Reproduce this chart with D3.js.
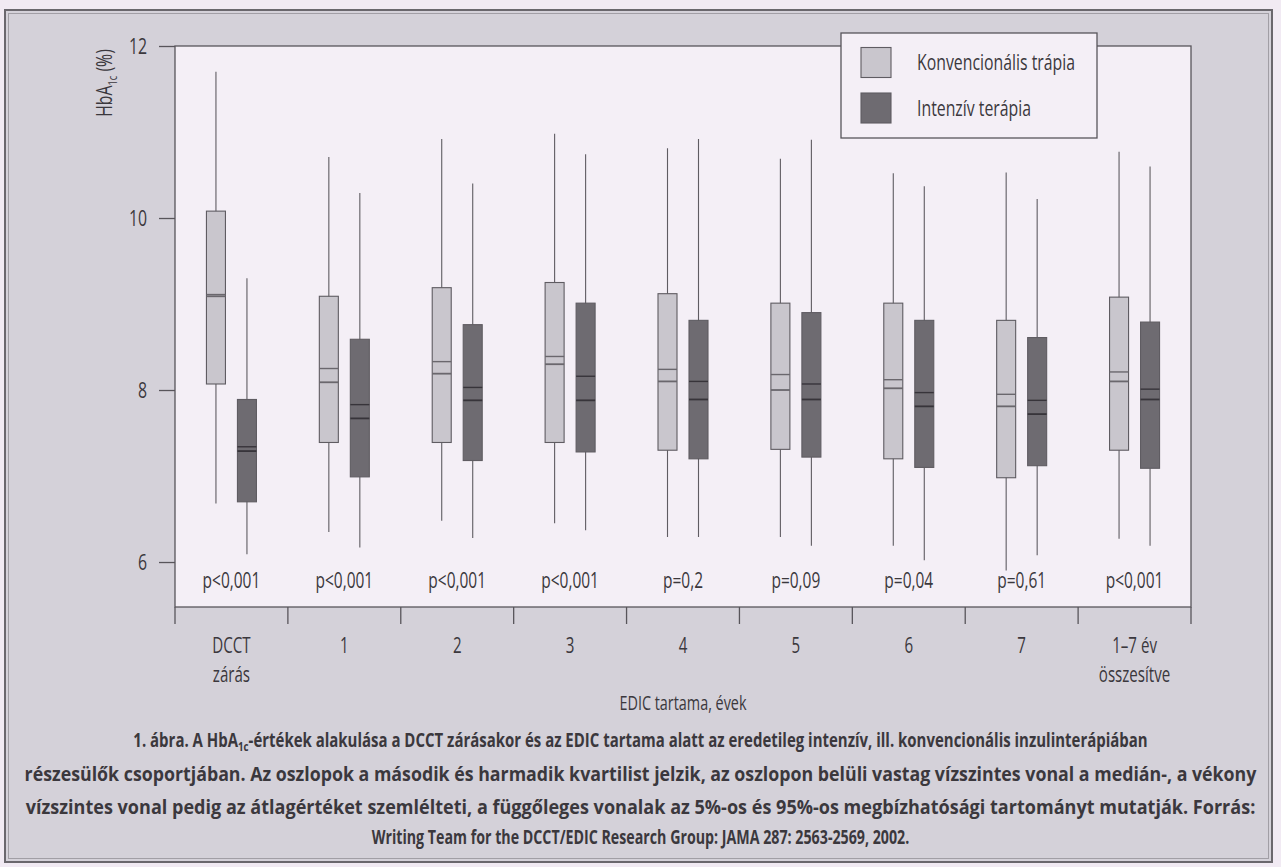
<!DOCTYPE html>
<html>
<head>
<meta charset="utf-8">
<script src="https://cdn.jsdelivr.net/npm/d3@7"></script>
<style>
    html, body { margin: 0; padding: 0; background: #f1eaf3; }
    svg { display: block; }
    text { font-family: "Open Sans", "Liberation Sans", sans-serif; fill: #3b383d; }
</style>
</head>
<body>
<svg id="grafico" width="1281" height="867"></svg>
<script>

// kategóriák (x tengely)
const kategoriak = ["DCCT zárás", "1", "2", "3", "4", "5", "6", "7", "1–7 év összesítve"];
const kategoriaFeliratok = [["DCCT", "zárás"], ["1"], ["2"], ["3"], ["4"], ["5"], ["6"], ["7"], ["1–7 év", "összesítve"]];
const pErtekek = ["p<0,001", "p<0,001", "p<0,001", "p<0,001", "p=0,2", "p=0,09", "p=0,04", "p=0,61", "p<0,001"];

const sorozatok = ["Konvencionális trápia", "Intenzív terápia"];

// konvencionális terápia
const konvP5     = [6.68, 6.35, 6.48, 6.45, 6.29, 6.29, 6.19, 5.90, 6.27];
const konvQ1     = [8.07, 7.39, 7.39, 7.39, 7.30, 7.31, 7.20, 6.98, 7.30];
const konvMedian = [9.09, 8.09, 8.19, 8.30, 8.10, 8.00, 8.02, 7.81, 8.10];
const konvAtlag  = [9.11, 8.25, 8.33, 8.39, 8.24, 8.18, 8.12, 7.95, 8.21];
const konvQ3     = [10.08, 9.09, 9.19, 9.25, 9.12, 9.01, 9.01, 8.81, 9.08];
const konvP95    = [11.70, 10.71, 10.92, 10.98, 10.81, 10.69, 10.52, 10.53, 10.77];

// intenzív terápia
const intP5      = [6.09, 6.17, 6.28, 6.37, 6.29, 6.19, 6.02, 6.08, 6.19];
const intQ1      = [6.70, 6.99, 7.18, 7.28, 7.20, 7.22, 7.10, 7.12, 7.09];
const intMedian  = [7.29, 7.67, 7.88, 7.88, 7.89, 7.89, 7.81, 7.72, 7.89];
const intAtlag   = [7.34, 7.83, 8.03, 8.16, 8.10, 8.07, 7.97, 7.88, 8.01];
const intQ3      = [7.89, 8.59, 8.76, 9.01, 8.81, 8.90, 8.81, 8.61, 8.79];
const intP95     = [9.30, 10.29, 10.40, 10.74, 10.92, 10.91, 10.37, 10.22, 10.60];

const yTickek = [6, 8, 10, 12];

const kepalairas = [
    "1. ábra. A HbA|1c|-értékek alakulása a DCCT zárásakor és az EDIC tartama alatt az eredetileg intenzív, ill. konvencionális inzulinterápiában",
    "részesülők csoportjában. Az oszlopok a második és harmadik kvartilist jelzik, az oszlopon belüli vastag vízszintes vonal a medián-, a vékony",
    "vízszintes vonal pedig az átlagértéket szemlélteti, a függőleges vonalak az 5%-os és 95%-os megbízhatósági tartományt mutatják. Forrás:",
    "Writing Team for the DCCT/EDIC Research Group: JAMA 287: 2563-2569, 2002."
];

const szinek = { konv: "#c9c6cd", int: "#6e6b71" };

// keskeny betű utánzása: vízszintes összenyomás az x pont körül
const SZUK = 0.72;

function szukit(sel, f) {
    sel.each(function() {
        const el = d3.select(this);
        const x = +el.attr("x") || 0;
        const t = el.attr("transform") || "";
        el.attr("transform", `${t} translate(${x},0) scale(${f},1) translate(${-x},0)`);
    });
}

const svg = d3.select("#grafico");

const width = 1281;
const height = 867;

const margin = { top: 46, right: 90, bottom: 260, left: 175 };

// keret
svg.append("rect")
    .attr("x", 5).attr("y", 10)
    .attr("width", 1267).attr("height", 852)
    .attr("fill", "#d4d1d9")
    .attr("stroke", "#6a676d")
    .attr("stroke-width", 2);

svg.append("rect")
    .attr("x", 8.5).attr("y", 13.5)
    .attr("width", 1260).attr("height", 845)
    .attr("fill", "none")
    .attr("stroke", "#a19ea5")
    .attr("stroke-width", 1);

const x0 = d3.scaleBand()
    .domain(kategoriak)
    .range([margin.left, width - margin.right]);

const bw = x0.bandwidth();

const x1 = d3.scaleBand()
    .domain(sorozatok)
    .range([bw / 2 - 25, bw / 2 + 25])
    .paddingInner(0.387);

const y = d3.scaleLinear()
    .domain([5.477, 12])
    .range([height - margin.bottom, margin.top]);

// rajzterület
svg.append("rect")
    .attr("x", margin.left)
    .attr("y", margin.top)
    .attr("width", x0.range()[1] - margin.left)
    .attr("height", y.range()[0] - margin.top)
    .attr("fill", "#f4eff6")
    .attr("stroke", "#58555b")
    .attr("stroke-width", 1.3);

// y tengely
const yTengely = svg.append("g")
    .attr("transform", `translate(${margin.left},0)`)
    .call(d3.axisLeft(y).tickValues(yTickek).tickSize(16).tickPadding(12).tickFormat(d3.format("d")));

yTengely.attr("font-family", null).attr("font-size", null);
yTengely.select(".domain").remove();
yTengely.selectAll(".tick line").attr("stroke", "#58555b").attr("stroke-width", 1.3);
yTengely.selectAll(".tick text")
    .style("font-size", "22px")
    .attr("fill", "#3b383d")
    .call(szukit, SZUK);

// y felirat
const yFelirat = svg.append("text")
    .attr("transform", "translate(112,83) rotate(-90)")
    .attr("text-anchor", "middle")
    .style("font-size", "22px");
yFelirat.append("tspan").text("HbA");
yFelirat.append("tspan").text("1c").style("font-size", "13px").attr("dy", 5);
yFelirat.append("tspan").text(" (%)").attr("dy", -5);
szukit(yFelirat, SZUK);

// x tengely: osztóvonalak a kategóriák határán
const hatarok = kategoriak.map(k => x0(k)).concat([x0.range()[1]]);

svg.append("g")
    .selectAll("line")
    .data(hatarok)
    .enter()
    .append("line")
    .attr("x1", d => d).attr("x2", d => d)
    .attr("y1", y.range()[0]).attr("y2", y.range()[0] + 17)
    .attr("stroke", "#58555b")
    .attr("stroke-width", 1.3);

kategoriaFeliratok.forEach((sorok, i) => {
    sorok.forEach((s, j) => {
        svg.append("text")
            .attr("x", x0(kategoriak[i]) + bw / 2)
            .attr("y", 653 + j * 29)
            .attr("text-anchor", "middle")
            .style("font-size", "21px")
            .text(s)
            .call(szukit, SZUK);
    });
});

svg.append("text")
    .attr("x", (margin.left + x0.range()[1]) / 2)
    .attr("y", 710)
    .attr("text-anchor", "middle")
    .style("font-size", "20px")
    .text("EDIC tartama, évek")
    .call(szukit, SZUK);

// p értékek
svg.append("g")
    .selectAll("text")
    .data(pErtekek)
    .enter()
    .append("text")
    .attr("x", (d, i) => x0(kategoriak[i]) + bw / 2)
    .attr("y", 588)
    .attr("text-anchor", "middle")
    .style("font-size", "21.5px")
    .text(d => d)
    .call(szukit, SZUK);

// dobozok adatai
const dobozok = [];
kategoriak.forEach((k, i) => {
    dobozok.push({ kat: k, sor: sorozatok[0], szin: szinek.konv, vonal: "#6a676d",
        p5: konvP5[i], q1: konvQ1[i], med: konvMedian[i], atl: konvAtlag[i], q3: konvQ3[i], p95: konvP95[i] });
    dobozok.push({ kat: k, sor: sorozatok[1], szin: szinek.int, vonal: "#37343a",
        p5: intP5[i], q1: intQ1[i], med: intMedian[i], atl: intAtlag[i], q3: intQ3[i], p95: intP95[i] });
});

const cx = d => x0(d.kat) + x1(d.sor) + x1.bandwidth() / 2;

const g = svg.append("g");

// bajusz vonalak
g.selectAll(".bajusz")
    .data(dobozok)
    .enter()
    .append("line")
    .attr("x1", cx).attr("x2", cx)
    .attr("y1", d => y(d.p95)).attr("y2", d => y(d.p5))
    .attr("stroke", "#5f5c62")
    .attr("stroke-width", 1.1);

g.selectAll(".doboz")
    .data(dobozok)
    .enter()
    .append("rect")
    .attr("x", d => x0(d.kat) + x1(d.sor))
    .attr("y", d => y(d.q3))
    .attr("width", x1.bandwidth())
    .attr("height", d => y(d.q1) - y(d.q3))
    .attr("fill", d => d.szin)
    .attr("stroke", "#5f5c62")
    .attr("stroke-width", 1.1);

// medián (vastag) és átlag (vékony)
g.selectAll(".median")
    .data(dobozok)
    .enter()
    .append("line")
    .attr("x1", d => x0(d.kat) + x1(d.sor))
    .attr("x2", d => x0(d.kat) + x1(d.sor) + x1.bandwidth())
    .attr("y1", d => y(d.med)).attr("y2", d => y(d.med))
    .attr("stroke", d => d.vonal)
    .attr("stroke-width", 1.8);

g.selectAll(".atlag")
    .data(dobozok)
    .enter()
    .append("line")
    .attr("x1", d => x0(d.kat) + x1(d.sor))
    .attr("x2", d => x0(d.kat) + x1(d.sor) + x1.bandwidth())
    .attr("y1", d => y(d.atl)).attr("y2", d => y(d.atl))
    .attr("stroke", d => d.vonal)
    .attr("stroke-width", 1.4);

// jelmagyarázat
const leg = svg.append("g");

leg.append("rect")
    .attr("x", 841).attr("y", 33)
    .attr("width", 256).attr("height", 105)
    .attr("fill", "#f4eff6")
    .attr("stroke", "#58555b")
    .attr("stroke-width", 1.3);

sorozatok.forEach((s, i) => {
    leg.append("rect")
        .attr("x", 861)
        .attr("y", 47.5 + i * 45.5)
        .attr("width", 30)
        .attr("height", 30)
        .attr("fill", i === 0 ? szinek.konv : szinek.int)
        .attr("stroke", "#5f5c62")
        .attr("stroke-width", 1.1);

    leg.append("text")
        .attr("x", 917)
        .attr("y", 70.5 + i * 45.5)
        .style("font-size", "22px")
        .text(s)
        .call(szukit, SZUK);
});

// képaláírás: soronként a referencia szélességére nyomva
const alapvonalak = [747, 781, 814, 844];
const szelessegek = [1015, 1233, 1230, 538];

kepalairas.forEach((sor, i) => {
    const t = svg.append("text")
        .attr("x", width / 2)
        .attr("y", alapvonalak[i])
        .attr("text-anchor", "middle")
        .style("font-size", "20px")
        .style("font-weight", "bold");

    sor.split("|").forEach((darab, j) => {
        const ts = t.append("tspan").text(darab);
        if (j === 1) ts.style("font-size", "13px").attr("dy", 4);
        if (j === 2) ts.attr("dy", -4);
    });

    const f = szelessegek[i] / t.node().getComputedTextLength();
    szukit(t, f);
});

</script>
</body>
</html>
